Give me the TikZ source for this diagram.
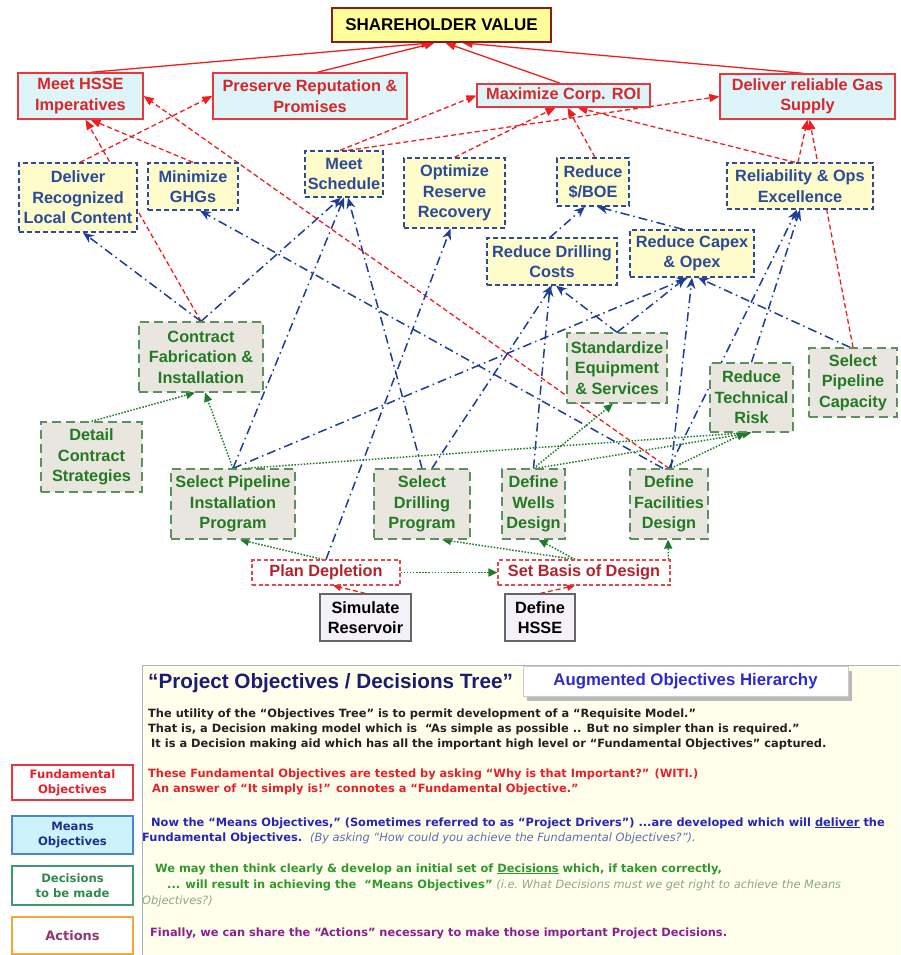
\documentclass[tikz,border=0pt]{standalone}
\usepackage{fontspec}
\setmainfont{Liberation Sans}
\newfontfamily\legendfont{DejaVu Sans}
\usetikzlibrary{arrows.meta,calc}
\pgfdeclarelayer{background}
\pgfsetlayers{background,main}

% node colours
\definecolor{fundred}{HTML}{E8383D}
\definecolor{fundtext}{HTML}{D8262B}
\definecolor{fundfill}{HTML}{DDF5F8}
\definecolor{meansblue}{HTML}{2B4A9B}
\definecolor{meansfill}{HTML}{FFFCCB}
\definecolor{decgreen}{HTML}{5E8F5E}
\definecolor{dectext}{HTML}{237A23}
\definecolor{decfill}{HTML}{E9E6DF}
\definecolor{actred}{HTML}{E04A4A}
\definecolor{acttext}{HTML}{B3232E}
\definecolor{inputfill}{HTML}{F5F1F8}
\definecolor{svfill}{HTML}{FFFF99}
\definecolor{svborder}{HTML}{8B1C1C}
% connector colours
\definecolor{linkred}{HTML}{F01E1E}
\definecolor{linkblue}{HTML}{1F3C96}
\definecolor{linkgreen}{HTML}{1E7B2A}
% legend colours
\definecolor{navytitle}{HTML}{1C1C70}
\definecolor{lgred}{HTML}{E8202A}
\definecolor{lgblue}{HTML}{2626B8}
\definecolor{lgblueit}{HTML}{5A6AB8}
\definecolor{lggreen}{HTML}{2E9A2E}
\definecolor{lggreenit}{HTML}{8AA88A}
\definecolor{lgpurple}{HTML}{8E1F8E}
\definecolor{lgblack}{HTML}{222222}
\definecolor{panelfill}{HTML}{FFFFEC}
\definecolor{panelline}{HTML}{A8B4C0}
\definecolor{keymeansfill}{HTML}{CCF3FC}
\definecolor{keymeansline}{HTML}{4A86D8}
\definecolor{keymeanstext}{HTML}{1F2F8F}
\definecolor{keydecline}{HTML}{3C9B6E}
\definecolor{keydectext}{HTML}{2E8A4A}
\definecolor{keyactline}{HTML}{F5A83A}
\definecolor{keyacttext}{HTML}{8E3A6A}
\definecolor{augblue}{HTML}{2B2BD0}

\tikzset{
  box/.style={rectangle, align=center, inner sep=0pt,
    font=\bfseries\fontsize{16.3}{20.5}\selectfont},
  svbox/.style={box, draw=svborder, fill=svfill, text=black, line width=1.8pt,
    font=\bfseries\fontsize{17}{20}\selectfont},
  fundbox/.style={box, draw=fundred, fill=fundfill, text=fundtext, line width=1.3pt},
  meansbox/.style={box, draw=meansblue, fill=meansfill, text=meansblue,
    line width=1.3pt, dash pattern=on 5pt off 3pt},
  decbox/.style={box, draw=decgreen, fill=decfill, text=dectext,
    line width=1.3pt, dash pattern=on 9pt off 5pt},
  actbox/.style={box, draw=actred, fill=white, text=acttext,
    line width=1.1pt, dash pattern=on 4pt off 2.5pt},
  inbox/.style={box, draw=gray!80!black, fill=inputfill, text=black, line width=1.1pt},
  fundlink/.style={draw=linkred, line width=1.3pt, -{Triangle[length=10pt,width=8pt]}},
  fundlinkd/.style={fundlink, dash pattern=on 5pt off 3pt},
  meanslink/.style={draw=linkblue, line width=1.5pt,
    dash pattern=on 9pt off 4pt on 1.5pt off 4pt, -{Stealth[length=11pt,width=9pt]}},
  declink/.style={draw=linkgreen, line width=1.5pt, dash pattern=on 1.5pt off 1.6pt,
    -{Triangle[length=9pt,width=8pt]}},
  legtext/.style={anchor=base west, inner sep=0pt,
    font=\legendfont\bfseries\fontsize{11.4}{13}\selectfont},
  keybox/.style={rectangle, draw, line width=1.5pt, fill=white, align=center,
    inner sep=0pt, minimum width=121pt,
    font=\legendfont\bfseries\fontsize{11.6}{15}\selectfont},
}

\begin{document}
\begin{tikzpicture}[x=1pt, y=-1pt]
\useasboundingbox (0,0) rectangle (900,955);

% ---------- explanation panel ----------
\fill[panelfill] (142,665) rectangle (900,955);
\draw[panelline, line width=1pt] (900,665) -- (142,665) -- (142,955);

% ---------- objectives tree ----------
\node[svbox, minimum width=219pt, minimum height=34pt] (sv) at (441.5,25) {SHAREHOLDER VALUE};

% fundamental objectives
\node[fundbox, minimum width=125pt, minimum height=46pt] (hsse) at (80.5,96) {Meet HSSE\\Imperatives};
\node[fundbox, minimum width=194pt, minimum height=46pt] (pres) at (310,96) {Preserve Reputation \&\\Promises};
\node[fundbox, minimum width=173pt, minimum height=23pt] (roi) at (563.5,95.5) {Maximize Corp. ROI};
\node[fundbox, minimum width=175pt, minimum height=45pt] (gas) at (807.5,96.5) {Deliver reliable Gas\\Supply};

% means objectives
\node[meansbox, minimum width=118pt, minimum height=69pt] (local) at (78,197.5) {Deliver\\Recognized\\Local Content};
\node[meansbox, minimum width=90pt, minimum height=47pt] (ghg) at (193,186.5) {Minimize\\GHGs};
\node[meansbox, minimum width=78pt, minimum height=46pt] (sched) at (344,174) {Meet\\Schedule};
\node[meansbox, minimum width=101pt, minimum height=70pt] (optres) at (454.5,193) {Optimize\\Reserve\\Recovery};
\node[meansbox, minimum width=72pt, minimum height=48pt] (boe) at (593,182) {Reduce\\\$/BOE};
\node[meansbox, minimum width=146pt, minimum height=46pt] (rel) at (800,186) {Reliability \& Ops\\Excellence};
\node[meansbox, minimum width=130pt, minimum height=47pt] (drill) at (552,261.5) {Reduce Drilling\\Costs};
\node[meansbox, minimum width=124pt, minimum height=47pt] (capex) at (692,253.5) {Reduce Capex\\\& Opex};

% decisions
\node[decbox, minimum width=124pt, minimum height=70pt] (contract) at (201,357) {Contract\\Fabrication \&\\Installation};
\node[decbox, minimum width=100pt, minimum height=70pt] (std) at (617,368) {Standardize\\Equipment\\\& Services};
\node[decbox, minimum width=83pt, minimum height=69pt] (rtr) at (751.5,397.5) {Reduce\\Technical\\Risk};
\node[decbox, minimum width=88pt, minimum height=69pt] (spcap) at (853,382.5) {Select\\Pipeline\\Capacity};
\node[decbox, minimum width=101pt, minimum height=70pt] (dcs) at (91.5,457) {Detail\\Contract\\Strategies};
\node[decbox, minimum width=124pt, minimum height=70pt] (spi) at (233,504) {Select Pipeline\\Installation\\Program};
\node[decbox, minimum width=96pt, minimum height=70pt] (sdp) at (422,504) {Select\\Drilling\\Program};
\node[decbox, minimum width=63pt, minimum height=70pt] (wells) at (533.5,504) {Define\\Wells\\Design};
\node[decbox, minimum width=78pt, minimum height=70pt] (facil) at (669,504) {Define\\Facilities\\Design};

% actions and inputs
\node[actbox, minimum width=148pt, minimum height=25pt] (plan) at (326,572.5) {Plan Depletion};
\node[actbox, minimum width=172pt, minimum height=25pt] (basis) at (584,572.5) {Set Basis of Design};
\node[inbox, minimum width=91pt, minimum height=47pt] (sim) at (365.5,617.5) {Simulate\\Reservoir};
\node[inbox, minimum width=70pt, minimum height=47pt] (dhsse) at (540,617.5) {Define\\HSSE};

\begin{pgfonlayer}{background}
% fundamental objectives feed shareholder value
\draw[fundlink] ([xshift=10pt]hsse.north) -- ([xshift=-10pt]sv.south);
\draw[fundlink] ([xshift=7pt]pres.north) -- ([xshift=-7pt]sv.south);
\draw[fundlink] ([xshift=-3pt]roi.north) -- ([xshift=4pt]sv.south);
\draw[fundlink] ([xshift=-4pt]gas.north) -- ([xshift=21pt]sv.south);

% why-is-that-important links
\draw[fundlinkd] ([xshift=2pt]local.north) -- (pres.west);
\draw[fundlinkd] (contract.north) -- ([xshift=5pt]hsse.south);
\draw[fundlinkd] (ghg.north) -- ([xshift=10pt]hsse.south);
\draw[fundlinkd] (facil.north) -- (hsse.east);
\draw[fundlinkd] ([xshift=-4pt]sched.north) -- (roi.west);
\draw[fundlinkd] ([xshift=4pt]sched.north) -- (gas.west);
\draw[fundlinkd] (optres.north) -- ([xshift=-8pt]roi.south);
\draw[fundlinkd] ([xshift=2pt]boe.north) -- ([xshift=4pt]roi.south);
\draw[fundlinkd] ([xshift=-5pt]rel.north) -- ([xshift=14pt]roi.south);
\draw[fundlinkd] ([xshift=-2pt]rel.north) -- (gas.south);
\draw[fundlinkd] (spcap.north) -- ([xshift=2pt]gas.south);

% decisions feeding means objectives
\draw[meanslink] (contract.north) -- ([xshift=5pt]local.south);
\draw[meanslink] (contract.north) -- ([xshift=-3pt]sched.south);
\draw[meanslink] (spi.north) -- (sched.south);
\draw[meanslink] (sdp.north) -- ([xshift=4pt]sched.south);
\draw[meanslink] ([xshift=-6pt]facil.north) -- ([xshift=7pt]ghg.south);
\draw[meanslink] (plan.north) -- ([xshift=-4pt]optres.south);
\draw[meanslink] ([xshift=-2pt]drill.north) -- ([xshift=-8pt]boe.south);
\draw[meanslink] ([xshift=-9pt]capex.north) -- ([xshift=4pt]boe.south);
\draw[meanslink] (rtr.north) -- (rel.south);
\draw[meanslink] (facil.north) -- ([xshift=-3pt]rel.south);
\draw[meanslink] ([xshift=10pt]sdp.north) -- (drill.south);
\draw[meanslink] (wells.north) -- ([xshift=-2pt]drill.south);
\draw[meanslink] (std.north) -- ([xshift=4pt]drill.south);
\draw[meanslink] (std.north) -- ([xshift=-6pt]capex.south);
\draw[meanslink] (spi.north) -- ([xshift=-4pt]capex.south);
\draw[meanslink] ([xshift=2pt]facil.north) -- (capex.south);
\draw[meanslink] ([xshift=-3pt]spcap.north) -- ([xshift=6pt]capex.south);

% decisions feeding decisions
\draw[declink] (dcs.north) -- ([xshift=-6pt]contract.south);
\draw[declink] (spi.north) -- ([xshift=4pt]contract.south);
\draw[declink] ([xshift=12pt]spi.north) -- ([xshift=-4pt]rtr.south);
\draw[declink] (wells.north) -- ([xshift=-4pt]std.south);
\draw[declink] ([xshift=2pt]wells.north) -- (rtr.south);
\draw[declink] ([xshift=2pt]facil.north) -- ([xshift=-6pt]rtr.south);
\draw[declink] ([xshift=-3pt]plan.north) -- ([xshift=7pt]spi.south);
\draw[declink] (plan.east) -- (basis.west);
\draw[declink] ([xshift=-9pt]basis.north) -- ([xshift=20pt]sdp.south);
\draw[declink] ([xshift=-9pt]basis.north) -- ([xshift=5pt]wells.south);
\draw[declink] ([xshift=-2pt]basis.north east) -- ([xshift=-1pt]facil.south);

% inputs to actions
\draw[fundlinkd, -{Triangle[length=8pt,width=7pt]}] (sim.north) -- ([xshift=7pt]plan.south);
\draw[fundlinkd, -{Triangle[length=8pt,width=7pt]}] (dhsse.north) -- ([xshift=-9pt]basis.south);
\end{pgfonlayer}

% ---------- explanation ----------
\node[anchor=base west, inner sep=0pt, text=navytitle,
  font=\bfseries\fontsize{20.7}{24}\selectfont] (title) at (148,688) {“Project Objectives / Decisions Tree”};
\fill[gray!55] (527,671) rectangle (852,701);
\node[rectangle, draw=gray!40, fill=white, minimum width=325pt, minimum height=30pt,
  inner sep=0pt, text=augblue, font=\bfseries\fontsize{16.8}{19}\selectfont] (aug) at (685.5,681.5) {Augmented Objectives Hierarchy};

\node[legtext, text=lgblack] (p1) at (148,717) {The utility of the “Objectives Tree” is to permit development of a “Requisite Model.”};
\node[legtext, text=lgblack] (p2) at (148,732) {That is, a Decision making model which is\ \ “As simple as possible .. But no simpler than is required.”};
\node[legtext, text=lgblack] (p3) at (151,747) {It is a Decision making aid which has all the important high level or “Fundamental Objectives” captured.};
\node[legtext, text=lgred] (p4) at (148,777) {These Fundamental Objectives are tested by asking “Why is that Important?” (WITI.)};
\node[legtext, text=lgred] (p5) at (152,792) {An answer of “It simply is!” connotes a “Fundamental Objective.”};
\node[legtext, text=lgblue] (p6) at (151,826) {Now the “Means Objectives,” (Sometimes referred to as “Project Drivers”) ...are developed which will \underline{deliver} the};
\node[legtext, text=lgblue] (p7) at (142,841) {Fundamental Objectives.\ \ \textcolor{lgblueit}{\mdseries\itshape (By asking “How could you achieve the Fundamental Objectives?”).}};
\node[legtext, text=lggreen] (p8) at (155,872) {We may then think clearly \& develop an initial set of \underline{Decisions} which, if taken correctly,};
\node[legtext, text=lggreen] (p9) at (167,888) {... will result in achieving the\ \ “Means Objectives” \textcolor{lggreenit}{\mdseries\itshape (i.e.\ What Decisions must we get right to achieve the Means}};
\node[legtext, text=lggreenit, font=\legendfont\itshape\fontsize{11.4}{13}\selectfont] (p10) at (142,904) {Objectives?)};
\node[legtext, text=lgpurple] (p11) at (150,936) {Finally, we can share the “Actions” necessary to make those important Project Decisions.};

% key boxes
\node[keybox, draw=fundred, text=lgred, minimum height=35pt] (kfund) at (72.5,782.5) {Fundamental\\Objectives};
\node[keybox, draw=keymeansline, fill=keymeansfill, text=keymeanstext, minimum height=38pt] (kmeans) at (72.5,835) {Means\\Objectives};
\node[keybox, draw=keydecline, text=keydectext, minimum height=39pt] (kdec) at (72.5,885.5) {Decisions\\to be made};
\node[keybox, draw=keyactline, text=keyacttext, minimum height=37pt,
  font=\legendfont\bfseries\fontsize{13}{15}\selectfont] (kact) at (72.5,935.5) {Actions};
\end{tikzpicture}
\end{document}
